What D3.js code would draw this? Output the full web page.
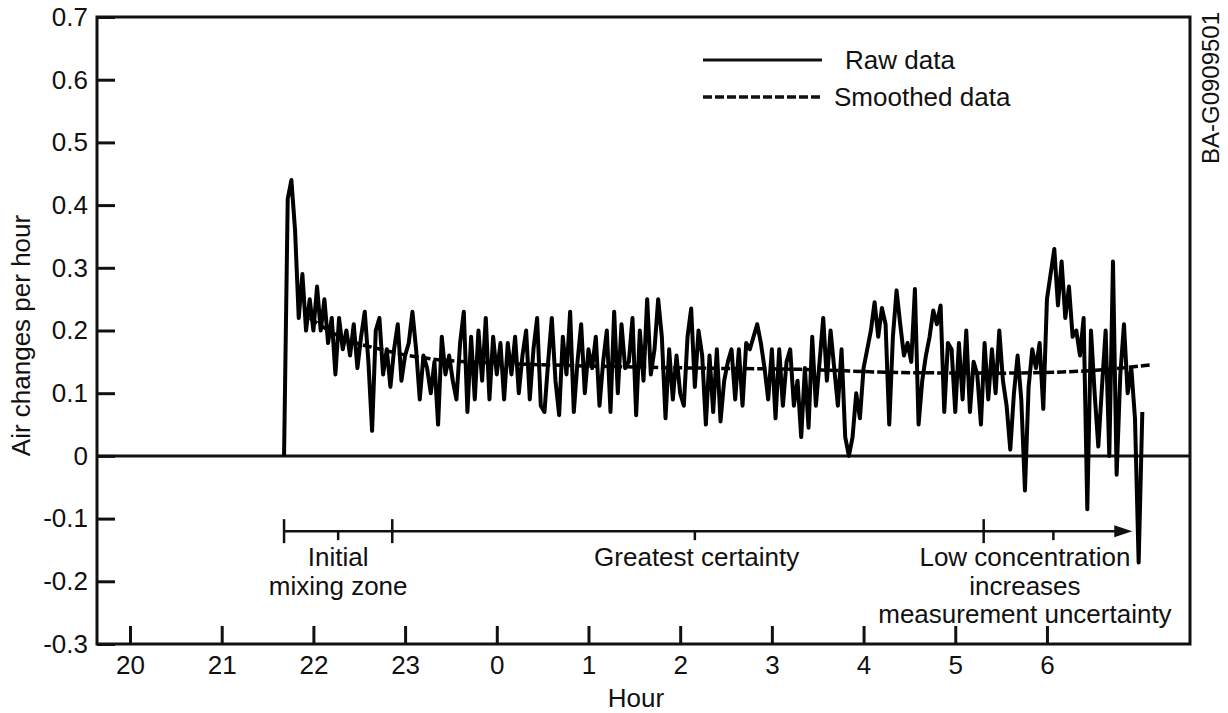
<!DOCTYPE html>
<html>
<head>
<meta charset="utf-8">
<script src="https://cdn.jsdelivr.net/npm/d3@7"></script>
<style>
  body { margin: 0; background: #fff; }
  text { font-family: "Liberation Sans", Arial, sans-serif; fill: #111; }
</style>
</head>
<body>
<svg id="chart" width="1228" height="713"></svg>
<script>
// raw series: one sample every 0.04 h starting at 21.68 h (hours past 24 = next morning)
const rawStart = 21.68, rawStep = 0.04;
const rawValues = [
  0, 0.41, 0.44, 0.36, 0.22, 0.29, 0.20, 0.25, 0.20, 0.27,
  0.20, 0.25, 0.18, 0.22, 0.13, 0.22, 0.17, 0.20, 0.16, 0.21,
  0.14, 0.19, 0.23, 0.15, 0.04, 0.20, 0.22, 0.13, 0.17, 0.11,
  0.17, 0.21, 0.12, 0.16, 0.18, 0.23, 0.17, 0.09, 0.16, 0.14,
  0.10, 0.15, 0.05, 0.19, 0.13, 0.16, 0.12, 0.09, 0.18, 0.23,
  0.07, 0.19, 0.09, 0.20, 0.12, 0.22, 0.09, 0.19, 0.13, 0.18,
  0.09, 0.18, 0.13, 0.19, 0.10, 0.16, 0.20, 0.09, 0.17, 0.22,
  0.08, 0.07, 0.15, 0.22, 0.12, 0.065, 0.19, 0.13, 0.23, 0.07,
  0.15, 0.21, 0.10, 0.17, 0.14, 0.19, 0.08, 0.15, 0.20, 0.07,
  0.23, 0.10, 0.21, 0.14, 0.15, 0.22, 0.065, 0.20, 0.12, 0.25,
  0.13, 0.17, 0.25, 0.19, 0.06, 0.17, 0.09, 0.16, 0.10, 0.08,
  0.19, 0.235, 0.11, 0.20, 0.16, 0.05, 0.16, 0.07, 0.17, 0.055,
  0.12, 0.15, 0.17, 0.09, 0.17, 0.08, 0.18, 0.17, 0.19, 0.21,
  0.18, 0.14, 0.09, 0.17, 0.06, 0.17, 0.08, 0.15, 0.17, 0.08,
  0.12, 0.03, 0.14, 0.045, 0.19, 0.08, 0.15, 0.22, 0.12, 0.20,
  0.14, 0.08, 0.17, 0.03, 0.0, 0.03, 0.10, 0.06, 0.14, 0.17,
  0.20, 0.245, 0.19, 0.236, 0.21, 0.05, 0.19, 0.264, 0.21, 0.16,
  0.18, 0.15, 0.266, 0.05, 0.12, 0.16, 0.19, 0.232, 0.21, 0.24,
  0.07, 0.18, 0.17, 0.07, 0.18, 0.09, 0.20, 0.07, 0.15, 0.13,
  0.05, 0.18, 0.09, 0.17, 0.10, 0.20, 0.12, 0.08, 0.01, 0.10,
  0.16, 0.09, -0.055, 0.11, 0.17, 0.14, 0.18, 0.075, 0.25, 0.29,
  0.33, 0.24, 0.31, 0.22, 0.27, 0.19, 0.20, 0.16, 0.22, -0.085,
  0.20, 0.10, 0.015, 0.11, 0.20, 0.0, 0.31, -0.03, 0.13, 0.21,
  0.10, 0.14, 0.06, -0.17, 0.07
];

const smoothHours  = [21.96, 22.29, 22.73, 23.27, 24.03, 25.13, 26.22, 27.31, 28.40, 29.49, 30.36, 31.12];
const smoothValues = [0.22, 0.19, 0.17, 0.155, 0.148, 0.143, 0.14, 0.138, 0.133, 0.132, 0.135, 0.145];

const hourTicks = [20, 21, 22, 23, 24, 25, 26, 27, 28, 29, 30];
const yTicks = [0.7, 0.6, 0.5, 0.4, 0.3, 0.2, 0.1, 0, -0.1, -0.2, -0.3];

// annotation bar under the curve
const annotLevel = -0.12;
const annotCaps = [21.68, 22.86];
const annotSmallTicks = [22.27, 26.16, 30.07];
const annotTallTicks = [29.31];
const annotArrowEnd = 30.93;
const annotLabels = [
  {h: 22.27, lines: ["Initial", "mixing zone"]},
  {h: 26.18, lines: ["Greatest certainty"]},
  {h: 29.76, lines: ["Low concentration", "increases", "measurement uncertainty"]}
];

const svg = d3.select("#chart");
const x = d3.scaleLinear().domain([19.64, 31.56]).range([97, 1190]);
const y = d3.scaleLinear().domain([-0.3, 0.7]).range([644, 17]);
const FS = 26;

// frame
svg.append("rect")
  .attr("x", x(19.64)).attr("y", y(0.7))
  .attr("width", x(31.56) - x(19.64)).attr("height", y(-0.3) - y(0.7))
  .attr("fill", "none").attr("stroke", "#111").attr("stroke-width", 3);

// zero line
svg.append("line")
  .attr("x1", x(19.64)).attr("x2", x(31.56))
  .attr("y1", y(0)).attr("y2", y(0))
  .attr("stroke", "#111").attr("stroke-width", 3);

// axes
const xAxis = svg.append("g")
  .attr("transform", `translate(0,${y(-0.3)})`)
  .call(d3.axisBottom(x).tickValues(hourTicks).tickSize(-18).tickPadding(12)
    .tickFormat(d => d % 24));
xAxis.select(".domain").remove();
xAxis.selectAll("line").attr("stroke", "#111").attr("stroke-width", 3);
xAxis.selectAll("text").style("font-size", FS + "px").style("font-family", "Liberation Sans, Arial, sans-serif").attr("fill", "#111");

const yAxis = svg.append("g")
  .attr("transform", `translate(${x(19.64)},0)`)
  .call(d3.axisLeft(y).tickValues(yTicks).tickSize(-18).tickPadding(9)
    .tickFormat(d => d === 0 ? "0" : d.toFixed(1)));
yAxis.select(".domain").remove();
yAxis.selectAll("line").attr("stroke", "#111").attr("stroke-width", 3);
yAxis.selectAll("text").style("font-size", FS + "px").style("font-family", "Liberation Sans, Arial, sans-serif").attr("fill", "#111");

// axis titles
svg.append("text")
  .attr("transform", `translate(30,${(y(0.7) + y(-0.3)) / 2 + 5}) rotate(-90)`)
  .attr("text-anchor", "middle")
  .style("font-size", FS + "px")
  .text("Air changes per hour");

svg.append("text")
  .attr("x", 636).attr("y", 707)
  .attr("text-anchor", "middle")
  .style("font-size", FS + "px")
  .text("Hour");

svg.append("text")
  .attr("transform", "translate(1219,88) rotate(-90)")
  .attr("text-anchor", "middle")
  .style("font-size", "24px")
  .text("BA-G0909501");

// data lines
const raw = rawValues.map((v, i) => [rawStart + i * rawStep, v]);
const smooth = smoothHours.map((h, i) => [h, smoothValues[i]]);
const line = d3.line().x(d => x(d[0])).y(d => y(d[1]));

svg.append("path")
  .datum(raw)
  .attr("d", line)
  .attr("fill", "none").attr("stroke", "#000")
  .attr("stroke-width", 4).attr("stroke-linejoin", "round");

svg.append("path")
  .datum(smooth)
  .attr("d", line.curve(d3.curveMonotoneX))
  .attr("fill", "none").attr("stroke", "#000")
  .attr("stroke-width", 3.5).attr("stroke-dasharray", "9,3");

// legend
svg.append("line").attr("x1", 703).attr("x2", 822).attr("y1", 60).attr("y2", 60)
  .attr("stroke", "#111").attr("stroke-width", 3);
svg.append("text").attr("x", 845).attr("y", 69).style("font-size", FS + "px").text("Raw data");
svg.append("line").attr("x1", 703).attr("x2", 822).attr("y1", 97).attr("y2", 97)
  .attr("stroke", "#111").attr("stroke-width", 3.5).attr("stroke-dasharray", "9,3");
svg.append("text").attr("x", 834).attr("y", 106).style("font-size", FS + "px").text("Smoothed data");

// annotation bar
const ay = y(annotLevel);
const ann = svg.append("g").attr("stroke", "#111").attr("stroke-width", 2.5);
ann.append("line").attr("x1", x(annotCaps[0])).attr("x2", x(annotArrowEnd) - 14)
  .attr("y1", ay).attr("y2", ay);
ann.selectAll(".cap").data(annotCaps).enter().append("line")
  .attr("x1", d => x(d)).attr("x2", d => x(d))
  .attr("y1", ay - 12).attr("y2", ay + 12);
ann.selectAll(".tall").data(annotTallTicks).enter().append("line")
  .attr("x1", d => x(d)).attr("x2", d => x(d))
  .attr("y1", ay - 12).attr("y2", ay + 12);
ann.selectAll(".small").data(annotSmallTicks).enter().append("line")
  .attr("x1", d => x(d)).attr("x2", d => x(d))
  .attr("y1", ay).attr("y2", ay + 9);
svg.append("path")
  .attr("d", `M${x(annotArrowEnd)},${ay} l-18,-6 l0,12 z`)
  .attr("fill", "#111");

annotLabels.forEach(a => {
  a.lines.forEach((t, k) => {
    svg.append("text")
      .attr("x", x(a.h)).attr("y", ay + 35 + k * 28.5)
      .attr("text-anchor", "middle")
      .style("font-size", FS + "px")
      .text(t);
  });
});
</script>
</body>
</html>
